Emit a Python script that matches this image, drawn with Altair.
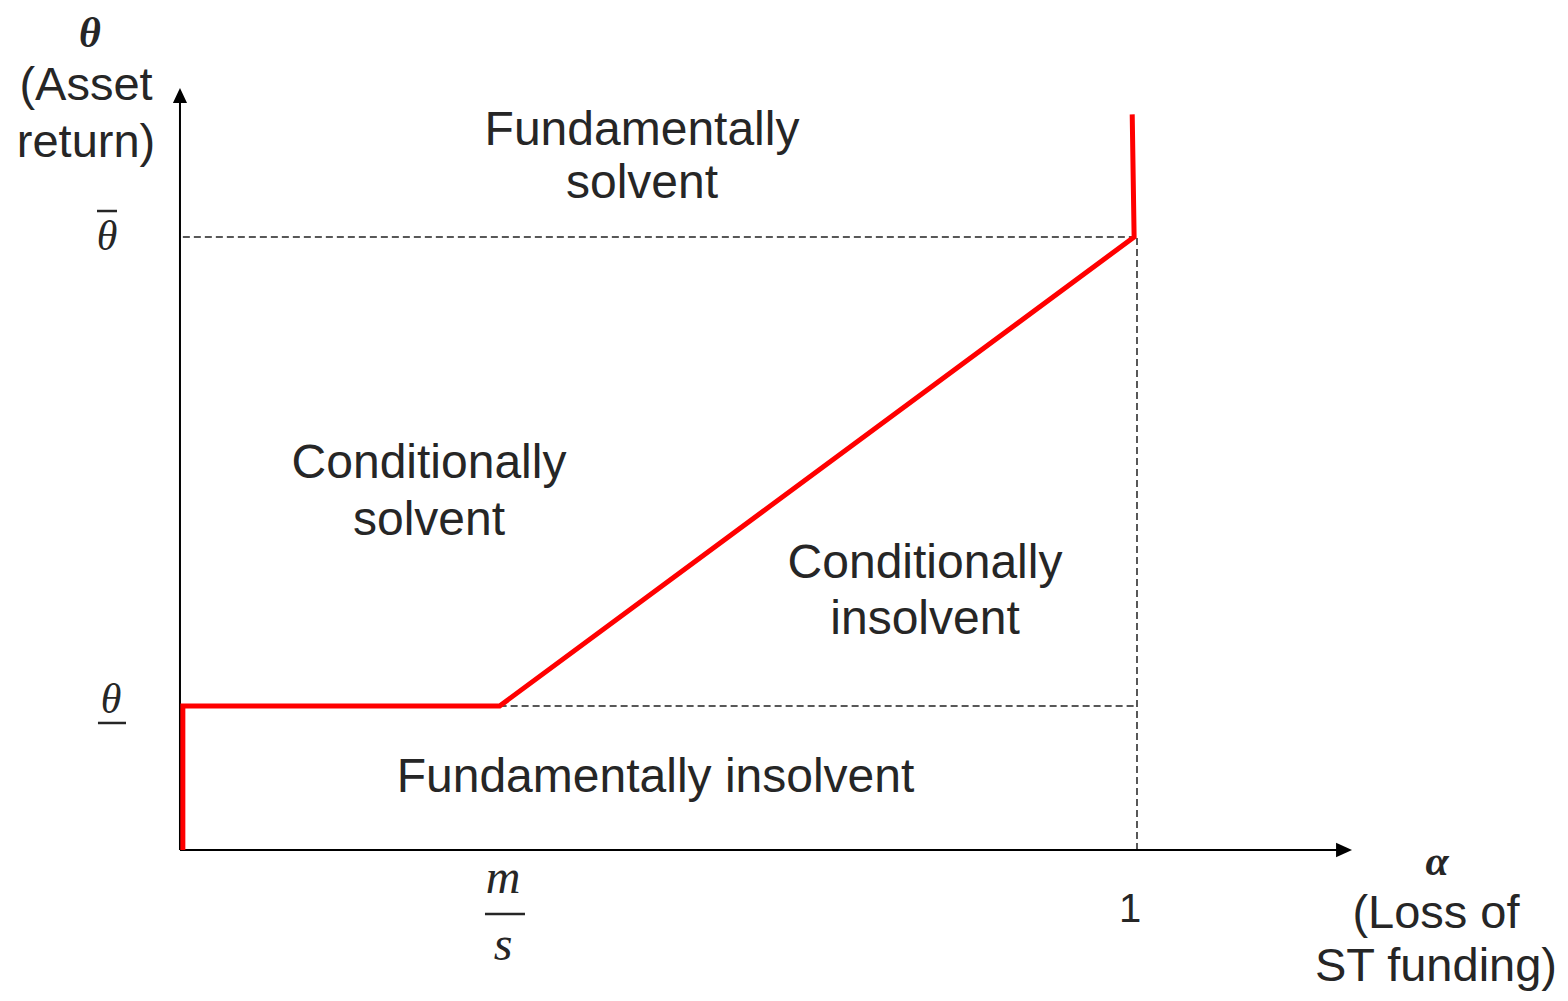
import altair as alt
import pandas as pd

W, H = 1552, 985
X_DOMAIN = [-0.1797, 1.4420]   # alpha
Y_DOMAIN = [-0.2333, 1.3736]   # theta

# ---- model values ----
M_OVER_S = 0.334
THETA_LOW = 0.235
THETA_BAR = 1.0

boundary_alpha = [0.003, 0.003, 0.334, 0.997, 0.995]
boundary_theta = [0.0, 0.235, 0.235, 1.0, 1.2]

guide_a = [0.003, 0.334, 1.0]
guide_t = [1.0, 0.235, 0.0]
guide_a2 = [0.997, 1.0, 1.0]
guide_t2 = [1.0, 0.235, 1.0]

axis_a = [0.0, 0.0]
axis_t = [0.0, 0.0]
axis_a2 = [0.0, 1.21]
axis_t2 = [1.225, 0.0]

arrow_up = {"a": [0.0], "t": [1.2431]}
arrow_right = {"a": [1.2247], "t": [0.0]}

region_labels = ["Fundamentally", "solvent", "Conditionally", "solvent",
                 "Conditionally", "insolvent", "Fundamentally insolvent"]
region_a = [0.4828, 0.4828, 0.2602, 0.2602, 0.7785, 0.7785, 0.4969]
region_t = [1.1501, 1.0636, 0.6069, 0.5139, 0.4437, 0.3524, 0.0946]

title_labels = ["(Asset", "return)", "(Loss of", "ST funding)"]
title_a = [-0.0982, -0.0982, 1.3124, 1.3124]
title_t = [1.2235, 1.1305, -0.1273, -0.2137]

tick_labels = ["1"]
tick_a = [0.9927]
tick_t = [-0.1175]

bold_math = ["θ", "α"]
bold_a = [-0.0940, 1.3135]
bold_t = [1.3100, -0.0408]

theta_marks = ["θ", "θ"]
theta_a = [-0.0763, -0.0721]
theta_t = [0.9788, 0.2235]

frac_letters = ["m", "s"]
frac_a = [0.3375, 0.3375]
frac_t = [-0.0701, -0.1794]

bar_a = [-0.0867, -0.0857, 0.3187]
bar_a2 = [-0.0658, -0.0564, 0.3605]
bar_t = [1.0424, 0.2072, -0.1044]

TEXT = "#262626"
SANS = "Liberation Sans"
SERIF = "Liberation Serif"

xs = alt.Scale(domain=X_DOMAIN, nice=False, zero=False)
ys = alt.Scale(domain=Y_DOMAIN, nice=False, zero=False)


def X(f="a"):
    return alt.X(f"{f}:Q", scale=xs, axis=None)


def Y(f="t"):
    return alt.Y(f"{f}:Q", scale=ys, axis=None)


def text_layer(labels, a, t, **kw):
    return alt.Chart(pd.DataFrame({"a": a, "t": t, "txt": labels})).mark_text(
        color=TEXT, align="center", baseline="alphabetic", **kw
    ).encode(x=X(), y=Y(), text="txt:N")


guides = alt.Chart(pd.DataFrame({"a": guide_a, "t": guide_t, "a2": guide_a2, "t2": guide_t2})).mark_rule(
    color="#222222", strokeWidth=1.5, strokeDash=[7, 4]
).encode(x=X(), y=Y(), x2="a2:Q", y2="t2:Q")

axes = alt.Chart(pd.DataFrame({"a": axis_a, "t": axis_t, "a2": axis_a2, "t2": axis_t2})).mark_rule(
    color="black", strokeWidth=2
).encode(x=X(), y=Y(), x2="a2:Q", y2="t2:Q")

up = alt.Chart(pd.DataFrame(arrow_up)).mark_point(
    shape="M0,0L0.47,1L-0.47,1Z", size=900, filled=True, color="black", opacity=1, strokeWidth=0
).encode(x=X(), y=Y())

right = alt.Chart(pd.DataFrame(arrow_right)).mark_point(
    shape="M0,0L-1,0.45L-1,-0.45Z", size=1024, filled=True, color="black", opacity=1, strokeWidth=0
).encode(x=X(), y=Y())

boundary = alt.Chart(pd.DataFrame({"a": boundary_alpha, "t": boundary_theta,
                                   "o": list(range(len(boundary_alpha)))})).mark_line(
    color="#FF0000", strokeWidth=5, strokeJoin="miter"
).encode(x=X(), y=Y(), order="o:O")

regions = text_layer(region_labels, region_a, region_t, font=SANS, fontSize=48)
titles = text_layer(title_labels, title_a, title_t, font=SANS, fontSize=47)
ticks = text_layer(tick_labels, tick_a, tick_t, font=SANS, fontSize=40)
bold = text_layer(bold_math, bold_a, bold_t, font=SERIF, fontSize=42,
                  fontStyle="italic", fontWeight="bold")
thetas = text_layer(theta_marks, theta_a, theta_t, font=SERIF, fontSize=42, fontStyle="italic")
frac = text_layer(frac_letters, frac_a, frac_t, font=SERIF, fontSize=48, fontStyle="italic")

bars = alt.Chart(pd.DataFrame({"a": bar_a, "a2": bar_a2, "t": bar_t})).mark_rule(
    color=TEXT, strokeWidth=2.5
).encode(x=X(), x2="a2:Q", y=Y())

chart = alt.layer(guides, axes, up, right, boundary, regions, titles, ticks,
                  bold, thetas, frac, bars).properties(
    width=W, height=H, padding=0, autosize=alt.AutoSizeParams(type="none"),
    background="white"
).configure_view(stroke=None)

chart.save("out.html", embed_options={"renderer": "svg", "actions": False})
